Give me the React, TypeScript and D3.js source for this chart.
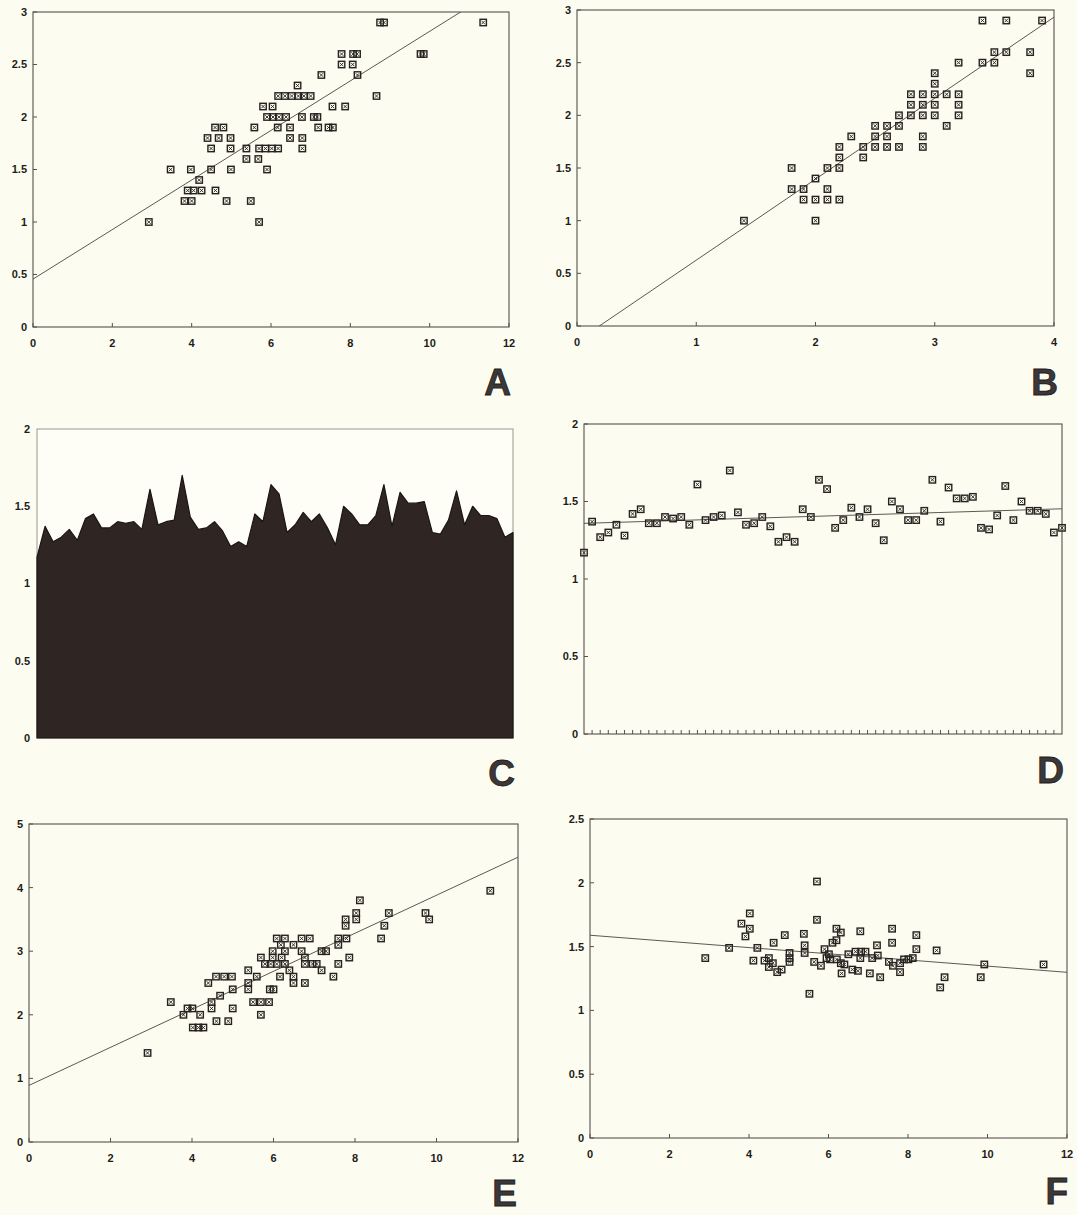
import React from 'react';
import * as d3 from 'd3';

// ---- data ----

// A: y vs x (x 0-12, y 0-3)
const panelA: [number, number][] = [
  [8.75, 2.9], [8.85, 2.9], [11.35, 2.9],
  [7.78, 2.6], [8.07, 2.6], [8.17, 2.6], [9.77, 2.6], [9.85, 2.6],
  [7.78, 2.5], [8.06, 2.5],
  [7.27, 2.4], [8.18, 2.4],
  [6.67, 2.3],
  [6.18, 2.2], [6.35, 2.2], [6.52, 2.2], [6.69, 2.2], [6.83, 2.2], [7.0, 2.2], [8.66, 2.2],
  [5.8, 2.1], [6.04, 2.1], [7.55, 2.1], [7.87, 2.1],
  [5.9, 2.0], [6.05, 2.0], [6.2, 2.0], [6.38, 2.0], [6.78, 2.0], [7.08, 2.0], [7.17, 2.0],
  [4.59, 1.9], [4.8, 1.9], [5.58, 1.9], [6.17, 1.9], [6.48, 1.9], [7.19, 1.9], [7.45, 1.9], [7.56, 1.9],
  [4.4, 1.8], [4.68, 1.8], [4.98, 1.8], [6.48, 1.8], [6.79, 1.8],
  [4.49, 1.7], [4.98, 1.7], [5.38, 1.7], [5.7, 1.7], [5.86, 1.7], [6.02, 1.7], [6.18, 1.7], [6.79, 1.7],
  [5.38, 1.6], [5.68, 1.6],
  [3.47, 1.5], [3.98, 1.5], [4.49, 1.5], [4.99, 1.5], [5.9, 1.5],
  [4.19, 1.4],
  [3.9, 1.3], [4.05, 1.3], [4.25, 1.3], [4.6, 1.3],
  [3.82, 1.2], [4.0, 1.2], [4.88, 1.2], [5.49, 1.2],
  [2.92, 1.0], [5.7, 1.0],
];
const lineA = { intercept: 0.456, slope: 0.236 };

// B: y vs x (x 0-4, y 0-3)
const panelB: [number, number][] = [
  [3.4, 2.9], [3.6, 2.9], [3.9, 2.9],
  [3.5, 2.6], [3.6, 2.6], [3.8, 2.6],
  [3.2, 2.5], [3.4, 2.5], [3.5, 2.5],
  [3.0, 2.4], [3.8, 2.4],
  [3.0, 2.3],
  [2.8, 2.2], [2.9, 2.2], [3.0, 2.2], [3.1, 2.2], [3.2, 2.2],
  [2.8, 2.1], [2.9, 2.1], [3.0, 2.1], [3.2, 2.1],
  [2.7, 2.0], [2.8, 2.0], [2.9, 2.0], [3.0, 2.0], [3.2, 2.0],
  [2.5, 1.9], [2.6, 1.9], [2.7, 1.9], [3.1, 1.9],
  [2.3, 1.8], [2.5, 1.8], [2.6, 1.8], [2.9, 1.8],
  [2.2, 1.7], [2.4, 1.7], [2.5, 1.7], [2.6, 1.7], [2.7, 1.7], [2.9, 1.7],
  [2.2, 1.6], [2.4, 1.6],
  [1.8, 1.5], [2.1, 1.5], [2.2, 1.5],
  [2.0, 1.4],
  [1.8, 1.3], [1.9, 1.3], [2.1, 1.3],
  [1.9, 1.2], [2.0, 1.2], [2.1, 1.2], [2.2, 1.2],
  [1.4, 1.0], [2.0, 1.0],
];
const lineB = { intercept: -0.144, slope: 0.769 };

// C and D: the same ordered series (60 values)
const ratioSeries: number[] = [
  1.17, 1.37, 1.27, 1.3, 1.35, 1.28, 1.42, 1.45, 1.36, 1.36,
  1.4, 1.39, 1.4, 1.35, 1.61, 1.38, 1.4, 1.41, 1.7, 1.43,
  1.35, 1.36, 1.4, 1.34, 1.24, 1.27, 1.24, 1.45, 1.4, 1.64,
  1.58, 1.33, 1.38, 1.46, 1.4, 1.45, 1.36, 1.25, 1.5, 1.45,
  1.38, 1.38, 1.44, 1.64, 1.37, 1.59, 1.52, 1.52, 1.53, 1.33,
  1.32, 1.41, 1.6, 1.38, 1.5, 1.44, 1.44, 1.42, 1.3, 1.33,
];
const lineD = { start: 1.359, end: 1.453 };

// E: y vs x (x 0-12, y 0-5)
const panelE: [number, number][] = [
  [2.91, 1.4], [3.48, 2.2], [3.79, 2.0], [3.89, 2.1], [4.01, 2.1], [4.2, 2.0],
  [4.02, 1.8], [4.16, 1.8], [4.28, 1.8], [4.4, 2.5], [4.48, 2.2], [4.48, 2.1],
  [4.6, 1.9], [4.59, 2.6], [4.79, 2.6], [4.98, 2.6], [4.69, 2.3], [4.89, 1.9],
  [5.0, 2.4], [5.0, 2.1], [5.38, 2.7], [5.38, 2.5], [5.38, 2.4], [5.59, 2.6],
  [5.5, 2.2], [5.69, 2.2], [5.89, 2.2], [5.69, 2.0], [5.91, 2.4], [6.0, 2.4],
  [5.69, 2.9], [5.79, 2.8], [5.93, 2.8], [6.08, 2.8], [6.28, 2.8], [5.98, 3.0],
  [5.98, 2.9], [6.08, 3.2], [6.28, 3.2], [6.18, 3.1], [6.28, 3.0], [6.2, 2.9],
  [6.39, 2.7], [6.49, 3.1], [6.16, 2.6], [6.49, 2.6], [6.49, 2.5], [6.69, 3.2],
  [6.89, 3.2], [6.69, 3.0], [6.77, 2.9], [6.77, 2.8], [6.96, 2.8], [7.06, 2.8],
  [6.77, 2.5], [7.18, 2.7], [7.18, 3.0], [7.29, 3.0], [7.47, 2.6], [7.59, 2.8],
  [7.59, 3.1], [7.59, 3.2], [7.79, 3.2], [7.77, 3.5], [7.77, 3.4], [7.86, 2.9],
  [8.03, 3.6], [8.03, 3.5], [8.12, 3.8], [8.64, 3.2], [8.72, 3.4], [8.83, 3.6],
  [9.73, 3.6], [9.82, 3.5], [11.32, 3.95],
];
const lineE = { intercept: 0.89, slope: 0.299 };

// F: y vs x (x 0-12, y 0-2.5)
const panelF: [number, number][] = [
  [2.9, 1.41], [3.5, 1.49], [3.81, 1.68], [3.91, 1.58], [4.02, 1.76], [4.02, 1.64],
  [4.11, 1.39], [4.21, 1.49], [4.39, 1.39], [4.5, 1.41], [4.6, 1.37], [4.5, 1.34],
  [4.62, 1.53], [4.71, 1.3], [4.82, 1.32], [4.9, 1.59], [5.02, 1.45], [5.02, 1.41],
  [5.02, 1.38], [5.38, 1.6], [5.4, 1.51], [5.4, 1.45], [5.52, 1.13], [5.71, 2.01],
  [5.71, 1.71], [5.64, 1.38], [5.81, 1.35], [5.9, 1.48], [6.01, 1.44], [5.95, 1.41],
  [6.04, 1.4], [6.1, 1.53], [6.2, 1.55], [6.2, 1.64], [6.31, 1.61], [6.21, 1.4],
  [6.31, 1.37], [6.4, 1.36], [6.33, 1.29], [6.5, 1.44], [6.68, 1.46], [6.6, 1.32],
  [6.74, 1.31], [6.8, 1.62], [6.82, 1.46], [6.93, 1.46], [6.8, 1.41], [7.04, 1.29],
  [7.1, 1.41], [7.24, 1.43], [7.22, 1.51], [7.3, 1.26], [7.52, 1.38], [7.6, 1.64],
  [7.6, 1.53], [7.62, 1.35], [7.8, 1.37], [7.8, 1.3], [7.9, 1.4], [8.01, 1.4],
  [8.12, 1.41], [8.21, 1.59], [8.21, 1.48], [8.72, 1.47], [8.81, 1.18], [8.92, 1.26],
  [9.83, 1.26], [9.92, 1.36], [11.41, 1.36],
];
const lineF = { intercept: 1.589, slope: -0.0242 };

const ticks12 = [0, 2, 4, 6, 8, 10, 12];
const ticks4 = [0, 1, 2, 3, 4];
const ticks3 = [0, 0.5, 1, 1.5, 2, 2.5, 3];
const ticks2 = [0, 0.5, 1, 1.5, 2];
const ticks5 = [0, 1, 2, 3, 4, 5];
const ticks25 = [0, 0.5, 1, 1.5, 2, 2.5];

// ---- drawing ----
const W = 1077;
const H = 1215;
const PAPER = '#fdfcf0';
const INK = '#262220';
const FONT = '"Liberation Sans", Arial, Helvetica, sans-serif';

type Box = { left: number; right: number; top: number; bottom: number };

function Marker({ x, y }: { x: number; y: number }) {
  const s = 3.2;
  const d = 1.8;
  return (
    <g transform={`translate(${x},${y})`}>
      <rect x={-s} y={-s} width={2 * s} height={2 * s} fill="none" stroke={INK} strokeWidth={1.4} />
      <path d={`M${-d},${-d}L${d},${d}M${-d},${d}L${d},${-d}`} stroke={INK} strokeWidth={0.9} />
    </g>
  );
}

function Frame({ box, xScale, yScale, xTicks, yTicks, showXLabels = true }: any) {
  return (
    <g>
      <rect x={box.left} y={box.top} width={box.right - box.left} height={box.bottom - box.top}
            fill="none" stroke="#55514f" strokeWidth={1.1} />
      {yTicks.map((t: number) => (
        <g key={'y' + t}>
          <line x1={box.left} x2={box.left + 4} y1={yScale(t)} y2={yScale(t)} stroke="#55514f" />
          <text x={box.left - 6} y={yScale(t)} dy="0.36em" textAnchor="end"
                fontFamily={FONT} fontWeight="bold" fontSize={11} fill="#1e1c1b">{String(t)}</text>
        </g>
      ))}
      {xTicks && xTicks.map((t: number) => (
        <g key={'x' + t}>
          <line x1={xScale(t)} x2={xScale(t)} y1={box.bottom} y2={box.bottom - 4} stroke="#55514f" />
          {showXLabels && (
            <text x={xScale(t)} y={box.bottom + 20} textAnchor="middle"
                  fontFamily={FONT} fontWeight="bold" fontSize={11} fill="#1e1c1b">{String(t)}</text>
          )}
        </g>
      ))}
    </g>
  );
}

function Letter({ x, y, text }: { x: number; y: number; text: string }) {
  return (
    <text x={x} y={y} textAnchor="end" fontFamily={FONT} fontWeight="bold" fontSize={37}
          fill="#3b3837" stroke="#1e1c1b" strokeWidth={0.8}>{text}</text>
  );
}

function ScatterPanel({ id, box, xDomain, yDomain, xTicks, yTicks, points, line, letter, letterPos }: any) {
  const x = d3.scaleLinear().domain(xDomain).range([box.left, box.right]);
  const y = d3.scaleLinear().domain(yDomain).range([box.bottom, box.top]);
  const fit = d3.line<number>()
    .x((v) => x(v))
    .y((v) => y(line.intercept + line.slope * v));
  return (
    <g>
      <defs>
        <clipPath id={id}>
          <rect x={box.left} y={box.top} width={box.right - box.left} height={box.bottom - box.top} />
        </clipPath>
      </defs>
      <Frame box={box} xScale={x} yScale={y} xTicks={xTicks} yTicks={yTicks} />
      <path d={fit(xDomain) || ''} clipPath={`url(#${id})`} fill="none" stroke="#4a4644" strokeWidth={0.9} />
      {points.map((p: [number, number], i: number) => (
        <Marker key={i} x={x(p[0])} y={y(p[1])} />
      ))}
      <Letter x={letterPos[0]} y={letterPos[1]} text={letter} />
    </g>
  );
}

function AreaPanel({ box }: { box: Box }) {
  const idx = d3.range(ratioSeries.length);
  const x = d3.scaleLinear().domain([0, ratioSeries.length - 1]).range([box.left, box.right]);
  const y = d3.scaleLinear().domain([0, 2]).range([box.bottom, box.top]);
  const area = d3.area<number>()
    .x((i) => x(i))
    .y0(y(0))
    .y1((i) => y(ratioSeries[i]));
  return (
    <g>
      <rect x={box.left} y={box.top} width={box.right - box.left} height={box.bottom - box.top}
            fill="#fefdf6" stroke="#9a9693" strokeWidth={1} />
      <path d={area(idx) || ''} fill="#2f2623" stroke="#1b1513" strokeWidth={1.2} strokeLinejoin="round" />
      {ticks2.map((t) => (
        <text key={t} x={box.left - 7} y={y(t)} dy="0.36em" textAnchor="end"
              fontFamily={FONT} fontWeight="bold" fontSize={11} fill="#1e1c1b">{String(t)}</text>
      ))}
      <Letter x={515} y={786} text="C" />
    </g>
  );
}

function SeriesPanel({ box }: { box: Box }) {
  const idx = d3.range(ratioSeries.length);
  const x = d3.scaleLinear().domain([0, ratioSeries.length - 1]).range([box.left, box.right]);
  const y = d3.scaleLinear().domain([0, 2]).range([box.bottom, box.top]);
  const last = ratioSeries.length - 1;
  const fit = d3.line<number>()
    .x((i) => x(i))
    .y((i) => y(lineD.start + ((lineD.end - lineD.start) * i) / last));
  return (
    <g>
      <Frame box={box} xScale={x} yScale={y} xTicks={idx.slice(1, last)} yTicks={ticks2} showXLabels={false} />
      <path d={fit([0, last]) || ''} fill="none" stroke="#4a4644" strokeWidth={0.9} />
      {idx.map((i) => (
        <Marker key={i} x={x(i)} y={y(ratioSeries[i])} />
      ))}
      <Letter x={1064} y={783} text="D" />
    </g>
  );
}

export default function App() {
  return (
    <svg width={W} height={H} style={{ position: 'absolute', left: 0, top: 0, background: PAPER }}>
      <rect width={W} height={H} fill={PAPER} />
      <ScatterPanel id="clipA" box={{ left: 33, right: 509, top: 12, bottom: 327 }}
                    xDomain={[0, 12]} yDomain={[0, 3]} xTicks={ticks12} yTicks={ticks3}
                    points={panelA} line={lineA} letter="A" letterPos={[511, 395]} />
      <ScatterPanel id="clipB" box={{ left: 577, right: 1054, top: 10, bottom: 326 }}
                    xDomain={[0, 4]} yDomain={[0, 3]} xTicks={ticks4} yTicks={ticks3}
                    points={panelB} line={lineB} letter="B" letterPos={[1058, 395]} />
      <AreaPanel box={{ left: 37, right: 513, top: 429, bottom: 738 }} />
      <SeriesPanel box={{ left: 584, right: 1062, top: 424, bottom: 734 }} />
      <ScatterPanel id="clipE" box={{ left: 29, right: 518, top: 824, bottom: 1142 }}
                    xDomain={[0, 12]} yDomain={[0, 5]} xTicks={ticks12} yTicks={ticks5}
                    points={panelE} line={lineE} letter="E" letterPos={[517, 1206]} />
      <ScatterPanel id="clipF" box={{ left: 590, right: 1067, top: 819, bottom: 1138 }}
                    xDomain={[0, 12]} yDomain={[0, 2.5]} xTicks={ticks12} yTicks={ticks25}
                    points={panelF} line={lineF} letter="F" letterPos={[1068, 1204]} />
    </svg>
  );
}
